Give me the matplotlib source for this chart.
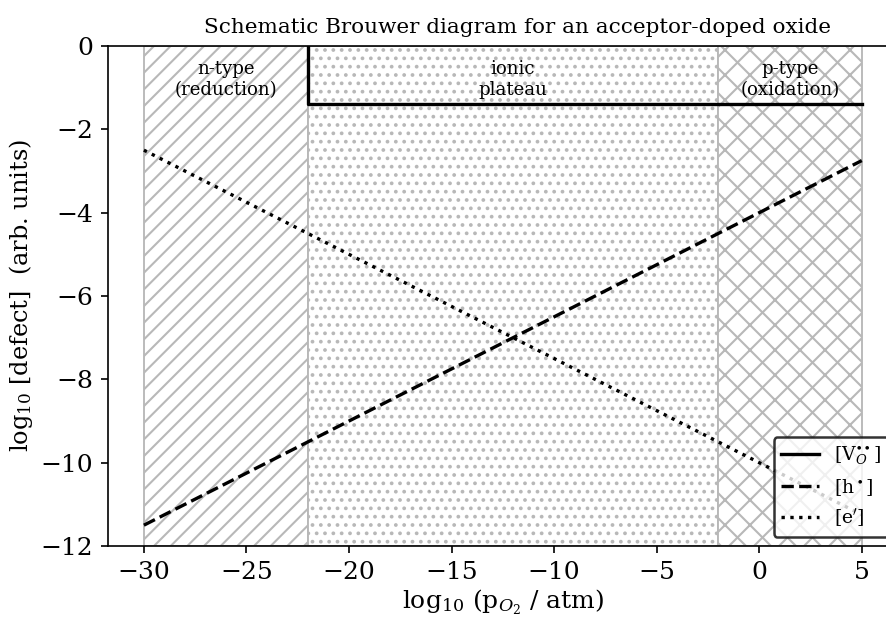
import matplotlib
matplotlib.use('Agg')
import matplotlib.pyplot as plt

plt.rcParams['font.family'] = ['DejaVu Serif']
plt.rcParams['mathtext.fontset'] = 'dejavuserif'
plt.rcParams['hatch.linewidth'] = 1.0

# log10 pO2 at the regime boundaries
x_pts = [-30, -22, -2, 5]
h_vals = [-11.5, -9.5, -4.5, -2.75]     # [h.]
e_vals = [-2.5, -4.5, -9.5, -11.25]     # [e']
vo_x = [-22, -22, 5]
vo_vals = [0, -1.4, -1.4]               # [V_O..]

regions = [(-30, -22, '///', 'n-type\n(reduction)'),
           (-22, -2, '...', 'ionic\nplateau'),
           (-2, 5, 'xx', 'p-type\n(oxidation)')]

DPI = 150
fig = plt.figure(figsize=(886 / DPI, 619 / DPI), dpi=DPI)
ax = fig.add_axes([0.1219, 0.1179, 0.8913, 0.8078])

for x0, x1, hatch, label in regions:
    ax.axvspan(x0, x1, facecolor='white', edgecolor='0.72', hatch=hatch,
               linewidth=0.9, zorder=0)
    ax.text((x0 + x1) / 2, -0.8, label, ha='center', va='center', fontsize=8.7)

ax.plot(vo_x, vo_vals, color='black', lw=1.6, ls='-', label=r'[V$_O^{\bullet\bullet}$]')
ax.plot(x_pts, h_vals, color='black', lw=1.6, ls='--', label=r'[h$^\bullet$]')
ax.plot(x_pts, e_vals, color='black', lw=1.6, ls=':', label=r"[e$'$]")

ax.set_xlim(-31.75, 6.75)
ax.set_ylim(-12, 0)
ax.set_xticks(range(-30, 6, 5))
ax.set_yticks(range(-12, 1, 2))
ax.tick_params(labelsize=12)
ax.spines['right'].set_visible(False)

ax.set_xlabel(r'log$_{10}$ (p$_{O_2}$ / atm)', fontsize=12, labelpad=2)
ax.set_ylabel(r'log$_{10}$ [defect]  (arb. units)', fontsize=11.5, labelpad=3)
ax.set_title('Schematic Brouwer diagram for an acceptor-doped oxide',
             fontsize=10.3, x=0.519)

leg = ax.legend(loc='lower right', fontsize=9, edgecolor='black')
leg.get_frame().set_linewidth(1.2)

fig.savefig('out.png', dpi=DPI)
